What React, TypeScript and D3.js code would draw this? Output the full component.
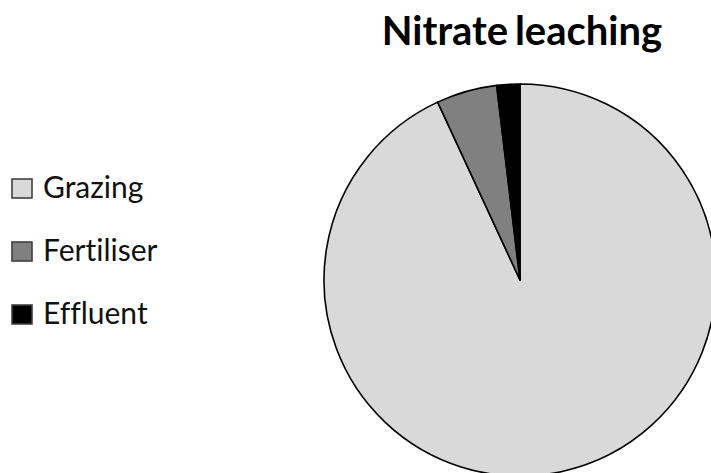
import React from 'react'
import * as d3 from 'd3'

const CATEGORIES = ['Grazing', 'Fertiliser', 'Effluent']
const VALUES = [93.1, 5.0, 1.9]
const COLOURS = ['#d9d9d9', '#808080', '#000000']

const width = 711
const height = 473
const cx = 520
const cy = 280
const radius = 196

export default function App() {
  const data = CATEGORIES.map((name, i) => ({ name, value: VALUES[i], colour: COLOURS[i] }))

  const pie = d3.pie<any>()
    .value((d) => d.value)
    .sort(null)

  const arc = d3.arc<any>()
    .innerRadius(0)
    .outerRadius(radius)

  const slices = pie(data).map((s, i) =>
    <path
      key={i}
      d={arc(s) as string}
      fill={s.data.colour}
      stroke="#000"
      strokeWidth={1.6}
      strokeLinejoin="round"
    />
  )

  const legendY = d3.scalePoint()
    .domain(CATEGORIES)
    .range([198, 324])

  const legend = data.map((d, i) =>
    <g key={i} transform={`translate(0,${legendY(d.name)})`}>
      <rect x={12} y={-19} width={20} height={19} fill={d.colour} stroke="#404040" strokeWidth={1.6} />
      <text x={43} y={0} fontSize={30} fill="#111">{d.name}</text>
    </g>
  )

  return (
    <svg
      width={width}
      height={height}
      style={{ position: 'absolute', left: 0, top: 0, background: '#fff', fontVariantLigatures: 'none' }}
      fontFamily="Lato, 'Open Sans', sans-serif"
    >
      <text x={522} y={45} textAnchor="middle" fontSize={40} fontWeight="bold" fill="#000" wordSpacing={-3}>
        Nitrate leaching
      </text>
      <g transform={`translate(${cx},${cy})`}>
        {slices}
      </g>
      {legend}
    </svg>
  )
}
